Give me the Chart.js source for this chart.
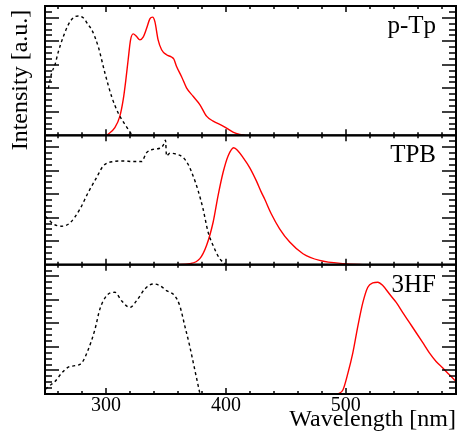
<!DOCTYPE html>
<html>
<head>
<meta charset="utf-8">
<script src="https://cdn.jsdelivr.net/npm/chart.js@4/dist/chart.umd.min.js"></script>
<style>
  html, body { margin: 0; padding: 0; background: #fff; }
</style>
</head>
<body>
<canvas id="specChart" width="459" height="436"></canvas>
<script>
    const serif = "Liberation Serif";

    const panelLabels = ["p-Tp", "TPB", "3HF"];
    const xTickValues = [300, 400, 500];

    // p-Tp
    const ptpAbsWl = [251.8, 254.6, 257.3, 260.1, 264.3, 268.4, 272.6, 276.8, 280.9, 285.1, 287.9, 293.4, 299.0, 304.6, 310.1, 315.7, 321.3];
    const ptpAbsInt = [0.40, 0.53, 0.60, 0.71, 0.84, 0.94, 1.00, 1.015, 1.00, 0.94, 0.90, 0.755, 0.53, 0.33, 0.19, 0.093, 0.008];
    const ptpEmWl = [300.4, 307.3, 311.5, 314.3, 316.5, 318.4, 320.4, 322.6, 325.4, 328.2, 330.9, 333.8, 336.5, 338.8, 340.7, 343.4, 346.3, 350.4, 354.6, 356.5, 358.8, 362.9, 367.1, 372.6, 378.2, 383.8, 389.3, 397.6, 405.9, 411.5, 416.0];
    const ptpEmInt = [0, 0.065, 0.163, 0.305, 0.474, 0.643, 0.812, 0.863, 0.84, 0.812, 0.835, 0.91, 0.99, 1.005, 0.967, 0.812, 0.728, 0.685, 0.666, 0.649, 0.586, 0.501, 0.404, 0.332, 0.262, 0.163, 0.121, 0.079, 0.028, 0.008, 0];

    // TPB
    const tpbAbsWl = [249.5, 255.9, 262.9, 269.8, 278.2, 285.1, 292.1, 297.6, 305.9, 314.3, 322.6, 329.6, 333.8, 339.3, 344.8, 347.6, 349.6, 350.4, 353.2, 358.8, 364.3, 368.4, 372.6, 376.8, 380.9, 385.1, 389.3, 394.8, 400.4];
    const tpbAbsInt = [0.41, 0.347, 0.327, 0.355, 0.474, 0.615, 0.742, 0.84, 0.877, 0.882, 0.877, 0.877, 0.953, 0.981, 0.99, 1.015, 1.058, 0.925, 0.948, 0.939, 0.911, 0.854, 0.755, 0.629, 0.474, 0.277, 0.163, 0.051, 0];
    const tpbEmWl = [358.8, 369.8, 378.2, 383.8, 389.3, 393.4, 397.6, 401.8, 406.5, 410.1, 414.3, 419.8, 425.4, 429.6, 432.3, 437.9, 444.8, 453.2, 464.3, 478.2, 499.0, 517.0];
    const tpbEmInt = [0, 0.008, 0.051, 0.163, 0.361, 0.586, 0.784, 0.925, 0.995, 0.967, 0.911, 0.826, 0.713, 0.615, 0.558, 0.431, 0.305, 0.192, 0.093, 0.036, 0.008, 0];

    // 3HF
    const hfAbsWl = [249.5, 251.8, 257.3, 262.9, 268.4, 274.0, 279.6, 285.1, 290.7, 294.8, 300.4, 307.3, 312.9, 319.8, 325.4, 332.3, 339.3, 344.8, 350.4, 357.3, 361.5, 365.7, 369.8, 374.0, 378.2];
    const hfAbsInt = [0.04, 0.063, 0.106, 0.178, 0.229, 0.241, 0.264, 0.378, 0.55, 0.722, 0.836, 0.865, 0.793, 0.736, 0.793, 0.893, 0.936, 0.922, 0.879, 0.836, 0.75, 0.578, 0.406, 0.206, 0.006];
    const hfEmWl = [493.4, 497.6, 501.8, 505.9, 510.1, 514.3, 518.4, 522.6, 526.8, 530.9, 536.5, 542.1, 547.6, 553.2, 558.8, 564.3, 569.8, 575.4, 581.0, 586.5, 592.0];
    const hfEmInt = [0, 0.034, 0.178, 0.35, 0.578, 0.779, 0.908, 0.945, 0.951, 0.922, 0.85, 0.779, 0.693, 0.607, 0.521, 0.436, 0.35, 0.277, 0.221, 0.163, 0.108];

    const panelAxes = ["yTop", "yMid", "yBot"];

    function series(wl, vals, axis, dashed) {
      return {
        data: wl.map((w, i) => ({ x: w, y: vals[i] })),
        yAxisID: axis,
        borderColor: dashed ? "#000000" : "#ff0000",
        borderWidth: dashed ? 1.4 : 1.4,
        borderDash: dashed ? [3, 3] : [],
        pointRadius: 0,
        cubicInterpolationMode: "monotone",
        fill: false
      };
    }

    function panelAxis(weight) {
      return {
        type: "linear",
        position: "left",
        stack: "panels",
        stackWeight: 1,
        weight: weight,
        min: 0,
        max: 1.1,
        ticks: { display: false },
        grid: { display: false, drawTicks: false },
        border: { display: false },
        afterFit: s => { s.width = 0; }
      };
    }

    // frames, inner tick marks, panel names and the y title
    const framePlugin = {
      id: "frames",
      afterDatasetsDraw(chart) {
        const { ctx, chartArea, scales } = chart;
        const xs = scales.x;
        ctx.save();
        ctx.strokeStyle = "#000";
        ctx.fillStyle = "#000";
        panelAxes.forEach((id, i) => {
          const ys = scales[id];
          ctx.lineWidth = 1.5;
          ctx.beginPath();
          for (let w = 260; w <= 580; w += 20) {
            const px = Math.round(xs.getPixelForValue(w));
            const len = w % 100 === 0 ? 6 : 3;
            ctx.moveTo(px, ys.bottom);
            ctx.lineTo(px, ys.bottom - len);
            ctx.moveTo(px, ys.top);
            ctx.lineTo(px, ys.top + len);
          }
          for (let k = 1; k < 22; k++) {
            const py = Math.round(ys.getPixelForValue(k * 0.05));
            const len = k % 4 === 0 ? 14 : 7;
            ctx.moveTo(chartArea.left, py);
            ctx.lineTo(chartArea.left + len, py);
            ctx.moveTo(chartArea.right, py);
            ctx.lineTo(chartArea.right - len, py);
          }
          ctx.stroke();
          ctx.lineWidth = 2;
          ctx.strokeRect(chartArea.left, ys.top, chartArea.right - chartArea.left, ys.bottom - ys.top);

          ctx.font = "25px '" + serif + "'";
          ctx.textAlign = "right";
          ctx.textBaseline = "alphabetic";
          ctx.fillText(panelLabels[i], 436, ys.top + 27);
        });

        ctx.translate(27, 80);
        ctx.rotate(-Math.PI / 2);
        ctx.font = "24px '" + serif + "'";
        ctx.textAlign = "center";
        ctx.textBaseline = "alphabetic";
        ctx.fillText("Intensity [a.u.]", 0, 0);
        ctx.restore();
      }
    };

    const ctx = document.getElementById("specChart").getContext("2d");

    const specChart = new Chart(ctx, {
      type: "line",
      data: {
        datasets: [
          series(ptpAbsWl, ptpAbsInt, "yTop", true),
          series(ptpEmWl, ptpEmInt, "yTop", false),
          series(tpbAbsWl, tpbAbsInt, "yMid", true),
          series(tpbEmWl, tpbEmInt, "yMid", false),
          series(hfAbsWl, hfAbsInt, "yBot", true),
          series(hfEmWl, hfEmInt, "yBot", false)
        ]
      },
      options: {
        responsive: false,
        devicePixelRatio: 1,
        animation: false,
        layout: { padding: { left: 45, right: 3, top: 6, bottom: 0 } },
        plugins: { legend: { display: false }, tooltip: { enabled: false } },
        scales: {
          x: {
            type: "linear",
            position: "bottom",
            min: 249,
            max: 592,
            grid: { display: false, drawTicks: false },
            border: { display: false },
            afterBuildTicks: s => { s.ticks = xTickValues.map(v => ({ value: v })); },
            ticks: {
              autoSkip: false,
              maxRotation: 0,
              padding: 0,
              color: "#000",
              font: { family: serif, size: 20 }
            },
            title: {
              display: true,
              text: "Wavelength [nm]",
              align: "end",
              color: "#000",
              font: { family: serif, size: 24 },
              padding: { top: 0, bottom: 2 }
            },
            afterFit: s => { s.height = 42; }
          },
          yTop: panelAxis(3),
          yMid: panelAxis(2),
          yBot: panelAxis(1)
        }
      },
      plugins: [framePlugin]
    });
</script>
</body>
</html>
